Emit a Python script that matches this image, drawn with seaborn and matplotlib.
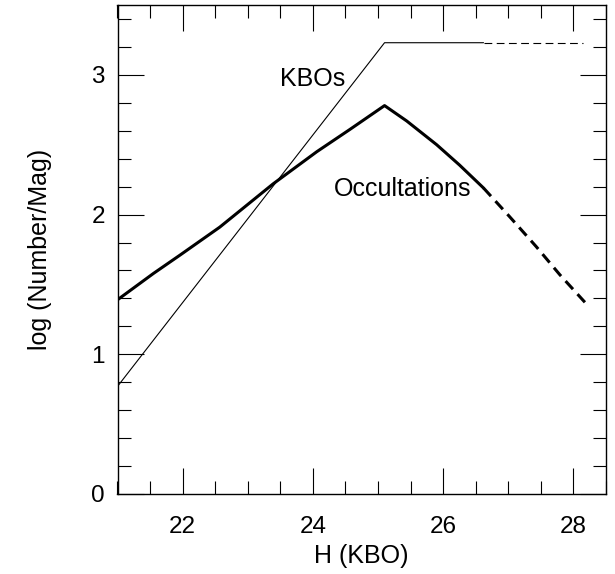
"""Cumulative KBO counts vs. expected occultation rate per magnitude bin."""
import matplotlib
matplotlib.use("Agg")
import matplotlib.pyplot as plt
import pandas as pd
import seaborn as sns
from matplotlib.ticker import MultipleLocator

# KBO luminosity function (thin line), solid where observed, dashed beyond
kbo_h_solid    = [21.0, 25.1, 26.62]
kbo_logn_solid = [0.77, 3.23, 3.23]
kbo_h_dash     = [26.62, 28.15]
kbo_logn_dash  = [3.23, 3.23]

# Occultation rate (thick line)
occ_h_solid    = [21.0, 21.55, 21.96, 22.57, 23.39, 24.06, 24.57, 25.1,
                  25.44, 25.9, 26.25, 26.62]
occ_logn_solid = [1.39, 1.578, 1.71, 1.91, 2.22, 2.45, 2.61, 2.78,
                  2.67, 2.50, 2.355, 2.19]
occ_h_dash     = [26.62, 27.02, 27.43, 27.79, 28.2]
occ_logn_dash  = [2.19, 1.985, 1.77, 1.57, 1.36]

sns.set_theme(style="ticks")
plt.rcParams["font.family"] = ["Liberation Sans", "DejaVu Sans"]
plt.rcParams["text.color"] = "black"
plt.rcParams["axes.labelcolor"] = "black"
plt.rcParams["xtick.labelcolor"] = "black"
plt.rcParams["ytick.labelcolor"] = "black"


def _seg(h, logn):
    return pd.DataFrame({"H": h, "logN": logn})


fig = plt.figure(figsize=(6.15, 5.74), dpi=100)
ax = fig.add_axes([117.5 / 615, 80 / 574, 488.5 / 615, 489 / 574])

thin = dict(color="black", linewidth=0.8)
thick = dict(color="black", linewidth=2.2)
sns.lineplot(data=_seg(kbo_h_solid, kbo_logn_solid), x="H", y="logN", ax=ax, **thin)
sns.lineplot(data=_seg(kbo_h_dash, kbo_logn_dash), x="H", y="logN", ax=ax,
             linestyle=(0, (7, 4)), **thin)
sns.lineplot(data=_seg(occ_h_solid, occ_logn_solid), x="H", y="logN", ax=ax, **thick)
sns.lineplot(data=_seg(occ_h_dash, occ_logn_dash), x="H", y="logN", ax=ax,
             linestyle=(0, (3.6, 2.2)), **thick)

ax.text(24.0, 2.92, "KBOs", ha="center", va="baseline", fontsize=18)
ax.text(25.38, 2.135, "Occultations", ha="center", va="baseline", fontsize=18)

ax.set_xlim(21, 28.5)
ax.set_ylim(0, 3.5)
ax.xaxis.set_major_locator(MultipleLocator(2))
ax.xaxis.set_minor_locator(MultipleLocator(0.5))
ax.yaxis.set_major_locator(MultipleLocator(1))
ax.yaxis.set_minor_locator(MultipleLocator(0.2))
ax.tick_params(which="both", direction="in", top=True, right=True,
               color="black", width=0.8, labelsize=17.5)
ax.tick_params(which="major", length=18.5)
ax.tick_params(which="minor", length=9.3)
ax.tick_params(axis="x", which="major", pad=16)
ax.tick_params(axis="y", which="major", pad=9)
for side in ax.spines.values():
    side.set_color("black")
    side.set_linewidth(1.0)

ax.set_xlabel("H (KBO)", fontsize=18, labelpad=4)
ax.set_ylabel("log (Number/Mag)", fontsize=18, labelpad=28)

fig.savefig("out.png", dpi=100)
